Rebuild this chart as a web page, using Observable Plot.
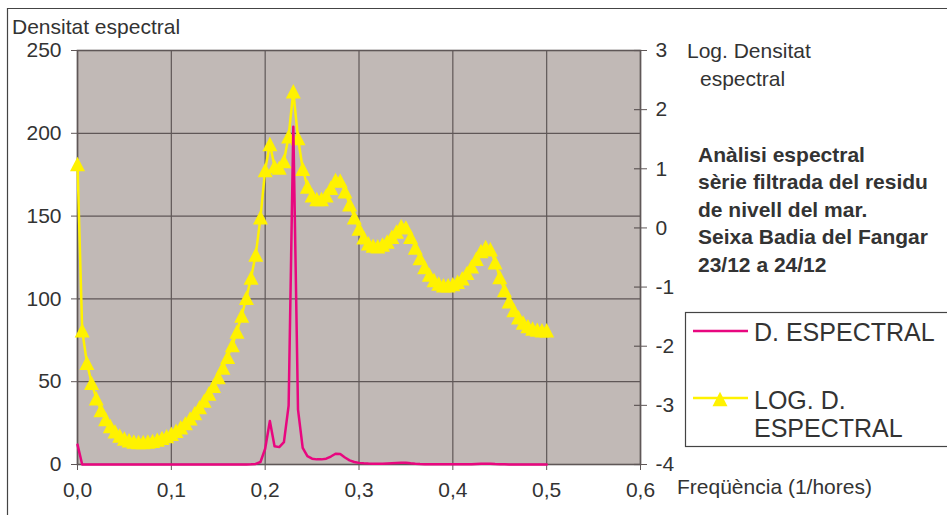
<!DOCTYPE html>
<html><head><meta charset="utf-8">
<script src="https://cdn.jsdelivr.net/npm/d3@7"></script>
<script src="https://cdn.jsdelivr.net/npm/@observablehq/plot@0.6"></script>
<style>html,body{margin:0;padding:0;background:#fff;} svg{display:block;}</style>
</head><body><div id="chart"></div>
<script>
// Frequencies (1/hores)
const freq = [0,0.005,0.01,0.015,0.02,0.025,0.03,0.035,0.04,0.045,0.05,0.055,0.06,0.065,0.07,0.075,0.08,0.085,0.09,0.095,
0.1,0.105,0.11,0.115,0.12,0.125,0.13,0.135,0.14,0.145,0.15,0.155,0.16,0.165,0.17,0.175,0.18,0.185,0.19,0.195,
0.2,0.205,0.21,0.215,0.22,0.225,0.23,0.235,0.24,0.245,0.25,0.255,0.26,0.265,0.27,0.275,0.28,0.285,0.29,0.295,
0.3,0.305,0.31,0.315,0.32,0.325,0.33,0.335,0.34,0.345,0.35,0.355,0.36,0.365,0.37,0.375,0.38,0.385,0.39,0.395,
0.4,0.405,0.41,0.415,0.42,0.425,0.43,0.435,0.44,0.445,0.45,0.455,0.46,0.465,0.47,0.475,0.48,0.485,0.49,0.495,0.5];

// D. ESPECTRAL (left axis)
const density = [12.0,0.019,0.0052,0.0024,0.0013,0.0008,0.0006,0.0004,0.0004,0.0003,
0.0003,0.0003,0.0002,0.0002,0.0002,0.0002,0.0003,0.0003,0.0003,0.0003,
0.0003,0.0004,0.0004,0.0005,0.0006,0.0007,0.0009,0.0012,0.0016,0.0021,
0.0030,0.0044,0.0066,0.010,0.018,0.033,0.066,0.14,0.35,1.5,
9.5,26.3,11.0,10.5,13.5,35.5,204,33.1,10.0,5.0,
3.5,3.1,3.1,3.5,4.8,6.5,6.3,4.2,2.5,1.5,
0.98,0.69,0.55,0.50,0.49,0.52,0.59,0.71,0.87,1.07,
1.02,0.71,0.47,0.31,0.22,0.16,0.13,0.11,0.11,0.11,
0.11,0.12,0.14,0.17,0.22,0.30,0.41,0.48,0.44,0.26,
0.15,0.089,0.058,0.041,0.031,0.025,0.022,0.020,0.019,0.019,0.019];

// LOG. D. ESPECTRAL (right axis)
const logDensity = [1.08,-1.73,-2.28,-2.62,-2.88,-3.08,-3.23,-3.35,-3.44,-3.51,
-3.56,-3.59,-3.61,-3.62,-3.62,-3.61,-3.60,-3.58,-3.55,-3.52,
-3.48,-3.43,-3.37,-3.30,-3.22,-3.13,-3.03,-2.92,-2.80,-2.67,
-2.52,-2.36,-2.18,-1.98,-1.75,-1.48,-1.18,-0.84,-0.45,0.18,
0.98,1.42,1.04,1.02,1.13,1.55,2.31,1.52,1.00,0.70,
0.55,0.49,0.49,0.55,0.68,0.81,0.80,0.62,0.40,0.18,
-0.01,-0.16,-0.26,-0.30,-0.31,-0.28,-0.23,-0.15,-0.06,0.03,
0.01,-0.15,-0.33,-0.51,-0.66,-0.79,-0.88,-0.94,-0.97,-0.97,
-0.95,-0.91,-0.85,-0.76,-0.65,-0.52,-0.39,-0.32,-0.36,-0.58,
-0.83,-1.05,-1.24,-1.39,-1.51,-1.60,-1.66,-1.70,-1.72,-1.73,-1.73];

const xTicks = [0,0.1,0.2,0.3,0.4,0.5,0.6];
const leftTicks = [0,50,100,150,200,250];
const rightTicks = [-4,-3,-2,-1,0,1,2,3];
const seriesNames = ["D. ESPECTRAL","LOG. D. ESPECTRAL"];
const titleLines = ["Anàlisi espectral","sèrie filtrada del residu","de nivell del mar.","Seixa Badia del Fangar","23/12 a 24/12"];

const PINK = "#e8077f", YELLOW = "#fff200", GRID = "#5f5757", BG = "#c1b9b6", TXT = "#333";
const FONT = "'Liberation Sans', Arial, Helvetica, sans-serif";

// map right-axis value into left-axis units
const rMin = rightTicks[0], rMax = rightTicks[rightTicks.length-1];
const lMin = leftTicks[0], lMax = leftTicks[leftTicks.length-1];
const toLeft = v => lMin + (v - rMin) * (lMax - lMin) / (rMax - rMin);
const fromLeft = d => rMin + (d - lMin) * (rMax - rMin) / (lMax - lMin);

const pinkData = freq.map((f,i) => ({f, v: density[i]}));
const yellowData = freq.map((f,i) => ({f, v: toLeft(logDensity[i])}));

const tri = {draw(ctx, size){ const r = Math.sqrt(size/Math.PI); const h = r*2.4, w = r*2.5;
  ctx.moveTo(0,-h/2); ctx.lineTo(w/2,h/2); ctx.lineTo(-w/2,h/2); ctx.closePath(); }};

const chart = Plot.plot({
  width: 947, height: 515,
  marginLeft: 77, marginRight: 307, marginTop: 50, marginBottom: 51,
  style: {fontFamily: FONT, fontSize: "21px", color: TXT, background: "#fff", overflow: "visible"},
  x: {domain: [0, 0.6]},
  y: {domain: [lMin, lMax]},
  marks: [
    Plot.frame({fill: BG}),
    Plot.gridX(xTicks, {stroke: GRID, strokeOpacity: 1, strokeWidth: 1.2}),
    Plot.gridY(leftTicks, {stroke: GRID, strokeOpacity: 1, strokeWidth: 1.2}),
    Plot.frame({stroke: GRID, strokeWidth: 1.6}),
    Plot.axisY(leftTicks, {anchor: "left", tickSize: 6, tickPadding: 10, label: null, stroke: GRID, tickFormat: d => String(d)}),
    Plot.axisX(xTicks, {anchor: "bottom", tickSize: 6, tickPadding: 12, label: null, stroke: GRID, tickFormat: d => d.toFixed(1).replace(".", ",")}),
    Plot.axisY(rightTicks.map(toLeft), {anchor: "right", tickSize: 6, tickPadding: 9, label: null, stroke: GRID, tickFormat: d => String(Math.round(fromLeft(d)))}),
    Plot.ruleY(rightTicks.map(toLeft), {x1: 0.6 - 0.0064, x2: 0.6, stroke: GRID, strokeWidth: 1.2}),
    Plot.line(yellowData, {x: "f", y: "v", stroke: YELLOW, strokeWidth: 2.5}),
    Plot.dot(yellowData, {x: "f", y: "v", symbol: tri, r: 6, fill: YELLOW, stroke: "none"}),
    Plot.line(pinkData, {x: "f", y: "v", stroke: PINK, strokeWidth: 2.5})
  ]
});
document.getElementById("chart").appendChild(chart);

const svg = d3.select(chart);
// outer chart-area border
svg.append("path").attr("d", "M7.5,515 L7.5,8.5 L947,8.5").attr("fill", "none").attr("stroke", "#444").attr("stroke-width", 1.2);

const txt = (x, y, s, opts = {}) => svg.append("text").attr("x", x).attr("y", y).text(s)
  .attr("text-anchor", "start")
  .attr("font-family", FONT).attr("font-size", opts.size || 21).attr("font-weight", opts.weight || "normal")
  .attr("fill", TXT);

txt(12, 34, "Densitat espectral");
txt(687, 58, "Log. Densitat");
txt(700, 86, "espectral");
txt(677, 494, "Freqüència (1/hores)");
titleLines.forEach((s, i) => txt(698, 162 + i * 27.4, s, {weight: "bold"}));

// legend
svg.append("rect").attr("x", 685.5).attr("y", 312.5).attr("width", 270).attr("height", 134)
  .attr("fill", "#fff").attr("stroke", "#444").attr("stroke-width", 1.2);
svg.append("line").attr("x1", 693).attr("x2", 748).attr("y1", 331).attr("y2", 331).attr("stroke", PINK).attr("stroke-width", 2.5);
txt(754, 341, seriesNames[0], {size: 25});
svg.append("line").attr("x1", 693).attr("x2", 748).attr("y1", 398).attr("y2", 398).attr("stroke", YELLOW).attr("stroke-width", 2.5);
svg.append("path").attr("transform", "translate(720,399)").attr("d", d3.symbol(tri, Math.PI*36)()).attr("fill", YELLOW);
txt(754, 409, "LOG. D.", {size: 25});
txt(754, 437, "ESPECTRAL", {size: 25});
</script>
</body></html>
